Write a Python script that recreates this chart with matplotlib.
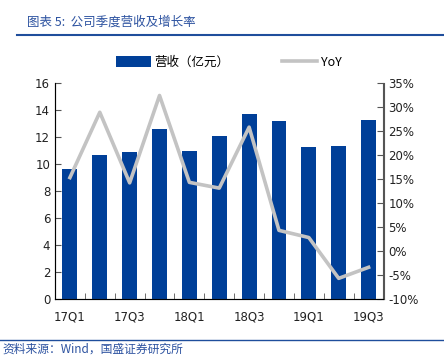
import numpy as np
import matplotlib.pyplot as plt
from matplotlib.ticker import FuncFormatter

plt.rcParams['font.family'] = ['DejaVu Sans', 'Noto Sans CJK SC']

quarters = ['17Q1', '17Q2', '17Q3', '17Q4', '18Q1', '18Q2', '18Q3', '18Q4', '19Q1', '19Q2', '19Q3']
revenue = [9.6, 10.65, 10.9, 12.6, 10.95, 12.05, 13.7, 13.2, 11.25, 11.35, 13.25]
yoy = [15.3, 28.9, 14.2, 32.4, 14.3, 13.1, 25.8, 4.3, 2.8, -5.7, -3.4]

bar_color = '#003f98'
line_color = '#c3c3c3'
text_blue = '#2c52a0'
cjk = ['Noto Sans CJK SC', 'DejaVu Sans']

fig = plt.figure(figsize=(4.44, 3.58), dpi=100)
ax = fig.add_axes([55 / 444, 1 - 299 / 358, (383.5 - 55) / 444, (299 - 83) / 358])
x = np.arange(len(quarters))
bars = ax.bar(x, revenue, width=0.5, color=bar_color, label='营收（亿元）', zorder=2)
ax.set_xlim(-0.5, len(quarters) - 0.5)
ax.set_ylim(0, 16)
ax.set_yticks(range(0, 17, 2))
ax.set_xticks(x[::2])
ax.set_xticklabels(quarters[::2])
ax.set_xticks(np.arange(-0.5, len(quarters), 1), minor=True)
ax.tick_params(axis='x', which='major', length=0, pad=8)
ax.tick_params(axis='x', which='minor', direction='in', length=4, color='#555555')
ax.tick_params(axis='y', direction='in', length=4, color='#555555')
ax.tick_params(labelsize=8.5, labelcolor='#222222')
ax.spines['top'].set_visible(False)
for s in ['left', 'bottom', 'right']:
    ax.spines[s].set_color('#555555')

ax2 = ax.twinx()
line, = ax2.plot(x, yoy, color=line_color, lw=2.6, label='YoY', zorder=3)
ax2.set_ylim(-10, 35)
ax2.set_yticks(range(-10, 36, 5))
ax2.yaxis.set_major_formatter(FuncFormatter(lambda v, p: f'{v:.0f}%'))
ax2.tick_params(axis='y', direction='in', length=4, color='#555555', labelsize=8.5, labelcolor='#222222')
ax2.spines['top'].set_visible(False)
ax2.spines['right'].set_color('#555555')

leg = fig.legend([bars, line], ['营收（亿元）', 'YoY'], loc='center', bbox_to_anchor=(0.515, 1 - 62 / 358),
                 ncol=2, frameon=False, handlelength=2.8, handleheight=1.0, handletextpad=0.3,
                 columnspacing=4.2, prop={'family': cjk, 'size': 9})

fig.text(27 / 444, 1 - 22 / 358, '图表 5:  公司季度营收及增长率', color=text_blue, fontsize=9,
         family=cjk, style='italic', va='center', ha='left')
fig.add_artist(plt.Line2D([17 / 444, 1.0], [1 - 35 / 358] * 2, color='#1f4e9c', lw=1.5))
fig.add_artist(plt.Line2D([0, 1.0], [1 - 340 / 358] * 2, color='#1f4e9c', lw=1.0))
fig.text(2 / 444, 1 - 349 / 358, '资料来源：Wind，国盛证券研究所', color=text_blue, fontsize=8.5,
         family=cjk, style='italic', va='center', ha='left')

fig.savefig('out.png', dpi=100)
